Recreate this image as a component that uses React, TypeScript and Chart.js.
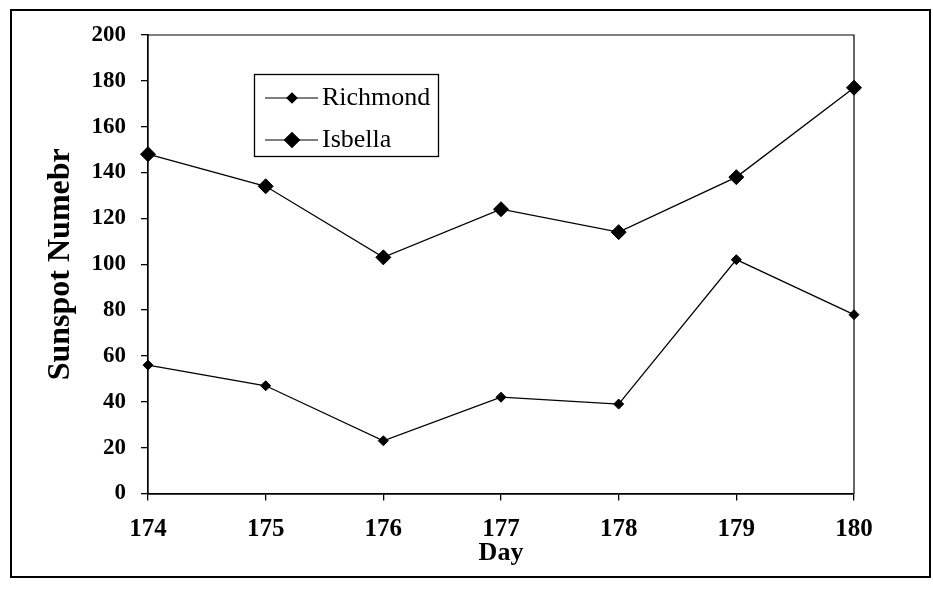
import { useEffect, useRef } from 'react';
import { Chart, registerables } from 'chart.js';

Chart.register(...registerables);

const days = ['174', '175', '176', '177', '178', '179', '180'];
const richmond = [56, 47, 23, 42, 39, 102, 78];
const isbella = [148, 134, 103, 124, 114, 138, 177];
const seriesNames = ['Richmond', 'Isbella'];
const yTitle = 'Sunspot Numebr';
const xTitle = 'Day';

const SERIF = '"Liberation Serif", "Times New Roman", Times, serif';

const boxPlugin = {
  id: 'boxPlugin',
  afterDraw(chart: any) {
    const { ctx, chartArea } = chart;
    ctx.save();
    ctx.strokeStyle = '#000';
    ctx.lineWidth = 1.2;
    ctx.beginPath();
    ctx.moveTo(chartArea.left, chartArea.top);
    ctx.lineTo(chartArea.right, chartArea.top);
    ctx.lineTo(chartArea.right, chartArea.bottom);
    ctx.stroke();
    ctx.restore();
  },
};

const legendPlugin = {
  id: 'legendPlugin',
  afterDraw(chart: any) {
    const { ctx } = chart;
    const bx = 254.5, by = 74.5, bw = 184, bh = 82;
    ctx.save();
    ctx.fillStyle = '#fff';
    ctx.fillRect(bx, by, bw, bh);
    ctx.strokeStyle = '#000';
    ctx.lineWidth = 1.3;
    ctx.strokeRect(bx, by, bw, bh);
    const rows = [98, 140];
    chart.data.datasets.forEach((ds: any, i: number) => {
      const y = rows[i];
      ctx.beginPath();
      ctx.strokeStyle = '#000';
      ctx.lineWidth = 1.2;
      ctx.moveTo(265, y);
      ctx.lineTo(318, y);
      ctx.stroke();
      const r = ds.pointRadius;
      ctx.beginPath();
      ctx.moveTo(292 - r, y);
      ctx.lineTo(292, y - r);
      ctx.lineTo(292 + r, y);
      ctx.lineTo(292, y + r);
      ctx.closePath();
      ctx.fillStyle = '#000';
      ctx.fill();
      ctx.stroke();
      ctx.font = `26px ${SERIF}`;
      ctx.textBaseline = 'middle';
      ctx.textAlign = 'left';
      ctx.fillText(ds.label, 322, y);
    });
    ctx.restore();
  },
};

export default function App() {
  const ref = useRef<HTMLCanvasElement>(null);
  useEffect(() => {
    if (!ref.current) return;
    const chart = new Chart(ref.current, {
      type: 'line',
      data: {
        labels: days,
        datasets: [
          {
            label: seriesNames[0],
            data: richmond,
            borderColor: '#000',
            backgroundColor: '#000',
            borderWidth: 1.3,
            pointStyle: 'rectRot',
            pointRadius: 5,
            pointBorderWidth: 1,
            pointBackgroundColor: '#000',
            pointBorderColor: '#000',
            clip: false,
            tension: 0,
          },
          {
            label: seriesNames[1],
            data: isbella,
            borderColor: '#000',
            backgroundColor: '#000',
            borderWidth: 1.3,
            pointStyle: 'rectRot',
            pointRadius: 7.5,
            pointBorderWidth: 1,
            pointBackgroundColor: '#000',
            pointBorderColor: '#000',
            clip: false,
            tension: 0,
          },
        ],
      },
      options: {
        responsive: false,
        animation: false,
        layout: { padding: { top: 35, right: 79, left: 0, bottom: 0 } },
        plugins: {
          legend: { display: false },
          tooltip: { enabled: false },
        },
        scales: {
          x: {
            type: 'category',
            offset: false,
            afterFit: (s: any) => { s.height = 96.5; },
            grid: {
              drawOnChartArea: false,
              drawTicks: true,
              tickLength: 7,
              color: '#000',
              lineWidth: 1.3,
            },
            border: { display: true, color: '#000', width: 1.7 },
            ticks: {
              color: '#000',
              font: { family: SERIF, size: 25, weight: 'bold' },
              padding: 14,
              maxRotation: 0,
            },
            title: {
              display: true,
              text: xTitle,
              color: '#000',
              font: { family: SERIF, size: 26, weight: 'bold' },
              padding: { top: 0, bottom: 21 },
            },
          },
          y: {
            min: 0,
            max: 200,
            afterFit: (s: any) => { s.width = 148; },
            grid: {
              drawOnChartArea: false,
              drawTicks: true,
              tickLength: 7,
              color: '#000',
              lineWidth: 1.3,
            },
            border: { display: true, color: '#000', width: 1.7 },
            ticks: {
              stepSize: 20,
              color: '#000',
              font: { family: SERIF, size: 23, weight: 'bold' },
              padding: 15,
            },
            title: {
              display: true,
              text: yTitle,
              color: '#000',
              font: { family: SERIF, size: 32, weight: 'bold' },
              padding: { top: 42, bottom: 0 },
            },
          },
        },
      },
      plugins: [boxPlugin, legendPlugin],
    } as any);
    return () => chart.destroy();
  }, []);
  return (
    <div style={{ position: 'absolute', left: 0, top: 0, width: 933, height: 590, background: '#fff' }}>
      <div
        style={{
          position: 'absolute',
          left: 10,
          top: 9,
          width: 921,
          height: 569,
          border: '2px solid #000',
          boxSizing: 'border-box',
        }}
      />
      <canvas ref={ref} width={933} height={590} style={{ position: 'absolute', left: 0, top: 0 }} />
    </div>
  );
}
